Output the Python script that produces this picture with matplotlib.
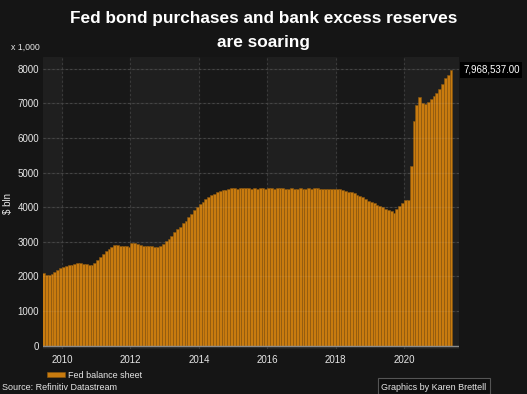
import pandas as pd
import numpy as np
import matplotlib
matplotlib.use("Agg")
import matplotlib.pyplot as plt
from matplotlib.patches import Rectangle

plt.rcParams["font.family"] = ["Liberation Sans", "DejaVu Sans"]

# Fed balance sheet, monthly, $ bln (Jun 2009 - May 2021)
luni = pd.date_range("2009-06-01", "2021-05-01", freq="MS")
bilant = [
    2110, 2040, 2050, 2070, 2140, 2180, 2230,                          # 2009
    2270, 2290, 2320, 2340, 2360, 2380, 2380, 2370, 2350, 2340, 2340, 2380,  # 2010
    2470, 2550, 2640, 2720, 2790, 2860, 2900, 2900, 2890, 2880, 2880, 2860,  # 2011
    2970, 2960, 2940, 2900, 2890, 2890, 2880, 2890, 2860, 2860, 2880, 2930,  # 2012
    3010, 3080, 3170, 3270, 3360, 3440, 3530, 3610, 3710, 3800, 3920, 4000,  # 2013
    4080, 4160, 4240, 4290, 4340, 4390, 4430, 4460, 4490, 4510, 4530, 4540,  # 2014
    4540, 4530, 4540, 4550, 4540, 4540, 4530, 4540, 4530, 4540, 4540, 4530,  # 2015
    4540, 4540, 4530, 4540, 4540, 4540, 4530, 4530, 4540, 4530, 4530, 4540,  # 2016
    4530, 4530, 4540, 4530, 4540, 4540, 4530, 4530, 4530, 4520, 4530, 4530,  # 2017
    4530, 4520, 4490, 4470, 4450, 4430, 4400, 4360, 4320, 4280, 4240, 4190,  # 2018
    4150, 4110, 4070, 4030, 3990, 3950, 3910, 3880, 3840, 3950, 4040, 4130,  # 2019
    4200, 4220, 5200, 6500, 6950, 7170, 7020, 6980, 7050, 7120, 7200, 7300,  # 2020
    7420, 7550, 7720, 7820, 7969,                                      # 2021
]
ultima_valoare = "7,968,537.00"

ani_ticks = [2010, 2012, 2014, 2016, 2018, 2020]
y_ticks = [0, 1000, 2000, 3000, 4000, 5000, 6000, 7000, 8000]

fundal = "#151515"
text_col = "#e6e6e6"
portocaliu = "#c87b0f"

fig = plt.figure(figsize=(5.27, 3.94), dpi=100, facecolor=fundal)
ax = fig.add_axes([43 / 527, 1 - 349 / 394, 416 / 527, 292 / 394])
ax.set_facecolor("#181818")

x0 = pd.Timestamp("2009-06-11")
x1 = pd.Timestamp("2021-08-10")
ax.set_xlim(x0, x1)
ax.set_ylim(-100, 8340)

# benzi alternative pe ani
ax.axvspan(x0, pd.Timestamp("2010-01-01"), color="#1f1f1f", zorder=0)
for an in [2012, 2016, 2020]:
    sf = pd.Timestamp(f"{an + 2}-01-01") if an < 2020 else x1
    ax.axvspan(pd.Timestamp(f"{an}-01-01"), sf, color="#1f1f1f", zorder=0)

# grid
ax.set_xticks([pd.Timestamp(f"{a}-01-01") for a in ani_ticks])
ax.set_xticklabels([str(a) for a in ani_ticks])
ax.set_yticks(y_ticks)
ax.set_yticklabels([str(v) for v in y_ticks])
ax.grid(True, color="#3a3a3a", linestyle=(0, (2, 2)), linewidth=0.8, zorder=1)
ax.set_axisbelow(True)

ax.bar(luni, bilant, width=31, align="edge", color=portocaliu,
       edgecolor="#8a5710", linewidth=0.4, zorder=2, label="Fed balance sheet")

for v in y_ticks[1:]:
    ax.axhline(v, color="white", alpha=0.06, linewidth=1, zorder=3)
ax.axhline(0, color="#8a8a8a", linewidth=1, zorder=4)

for s in ax.spines.values():
    s.set_visible(False)
ax.tick_params(colors=text_col, labelsize=7, length=0, pad=4)
ax.tick_params(axis="y", pad=3)

# eticheta ultimei valori
ax.annotate(ultima_valoare, xy=(1.01, bilant[-1]), xycoords=("axes fraction", "data"),
            ha="left", va="center", fontsize=7.0, color="white",
            bbox=dict(boxstyle="square,pad=0.28", fc="black", ec="none"))

# titlu si texte
fig.text(0.5, 1 - 18 / 394, "Fed bond purchases and bank excess reserves", ha="center",
         va="center", fontsize=12.4, fontweight="bold", color="white")
fig.text(0.5, 1 - 42 / 394, "are soaring", ha="center", va="center", fontsize=12.4,
         fontweight="bold", color="white")
fig.text(40 / 527, 1 - 47 / 394, "x 1,000", ha="right", va="center", fontsize=6.3, color=text_col)
fig.text(8 / 527, 1 - 203 / 394, "$ bln", ha="center", va="center", rotation=90,
         fontsize=7, color=text_col)

leg = ax.legend(loc="upper left", bbox_to_anchor=(0.0, -0.062), frameon=False,
                fontsize=6.5, handlelength=2.0, handleheight=0.55, borderaxespad=0,
                handletextpad=0.35)
for t in leg.get_texts():
    t.set_color(text_col)

fig.text(2 / 527, 1 - 387 / 394, "Source: Refinitiv Datastream", ha="left", va="center",
         fontsize=6.5, color=text_col)
fig.patches.append(Rectangle((378 / 527, 0), 112 / 527, 16 / 394, transform=fig.transFigure,
                             fc="#0e0e0e", ec="#555555", lw=0.8))
fig.text(434 / 527, 1 - 387 / 394, "Graphics by Karen Brettell", ha="center", va="center",
         fontsize=6.5, color=text_col)

fig.savefig("out.png", dpi=100, facecolor=fundal)
